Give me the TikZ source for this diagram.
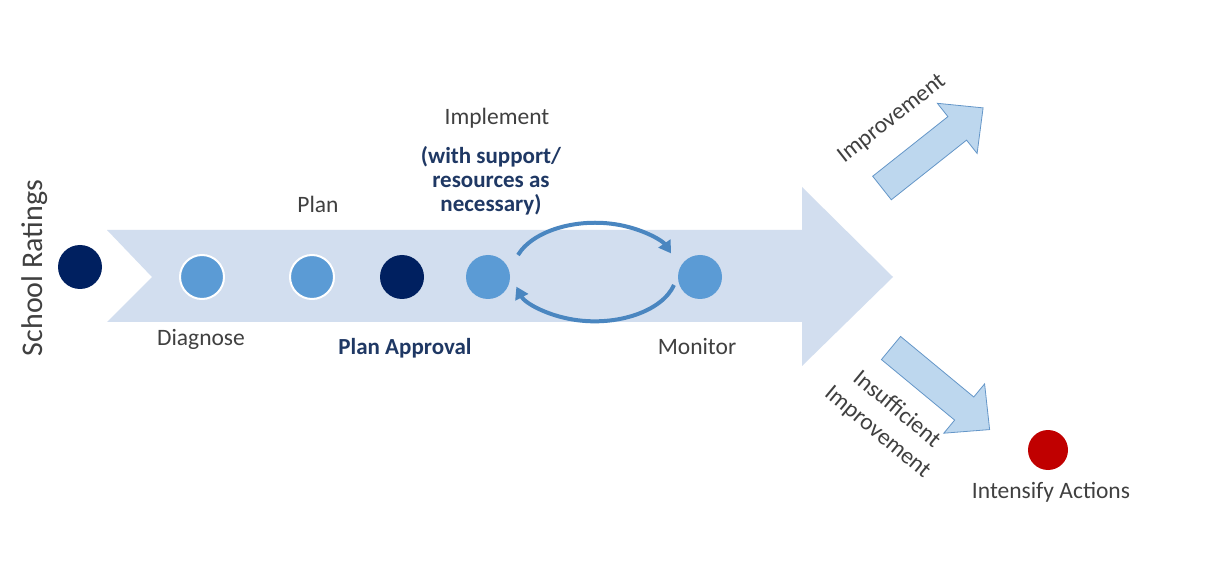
\documentclass[tikz,border=0pt]{standalone}
\usepackage{fontspec}
\setmainfont{Carlito}
\usetikzlibrary{arrows.meta}
\definecolor{band}{RGB}{210,222,239}
\definecolor{dotblue}{RGB}{91,155,213}
\definecolor{dotnavy}{RGB}{0,32,96}
\definecolor{dotred}{RGB}{192,0,0}
\definecolor{cyc}{RGB}{74,134,192}
\definecolor{blockfill}{RGB}{189,215,238}
\definecolor{blockline}{RGB}{100,150,200}
\definecolor{txtgrey}{RGB}{64,64,64}
\definecolor{txtnavy}{RGB}{31,56,100}
\tikzset{
  dot/.style={circle, minimum size=44pt, inner sep=0pt, fill=dotblue},
  wdot/.style={dot, draw=white, line width=2pt},
  ndot/.style={dot, fill=dotnavy},
  lbl/.style={text=txtgrey, font=\fontsize{23.5}{28}\selectfont, inner sep=0pt},
  blbl/.style={text=txtnavy, font=\fontsize{23}{24}\selectfont\bfseries, inner sep=0pt, align=center},
  cycarrow/.style={draw=cyc, line width=4pt, -{Triangle[length=12pt,width=14pt]}},
  blockarrow/.style={fill=blockfill, draw=blockline, line width=0.8pt, line join=miter}
}
\begin{document}
\begin{tikzpicture}[x=1pt,y=-1pt]
\useasboundingbox[fill=white] (0,0) rectangle (1227,585);
% big band arrow
\fill[band] (107,230) -- (802,230) -- (802,187) -- (893,277) -- (802,366) -- (802,322) -- (107,322) -- (152,277) -- cycle;
% dots
\node[ndot] (rating) at (80,267) {};
\node[wdot] (diag) at (202,277) {};
\node[wdot] (plan) at (312,277) {};
\node[ndot] (appr) at (402,277) {};
\node[dot] (impl) at (488,277) {};
\node[dot] (mon) at (700,277) {};
\node[dot, fill=dotred, minimum size=40pt] (act) at (1048,450) {};
% cycle arrows
\coordinate (ctop) at (518,255);
\coordinate (cbot) at (674,285);
\draw[cycarrow] (ctop) arc[start angle=-160, end angle=-22, x radius=82, y radius=49];
\draw[cycarrow] (cbot) arc[start angle=15, end angle=163, x radius=82, y radius=49];
% block arrows
\begin{scope}[shift={(882,188)}, rotate=38.4]
\draw[blockarrow] (0,-15) -- (96,-15) -- (96,-32) -- (129,0) -- (96,32) -- (96,15) -- (0,15) -- cycle;
\end{scope}
\begin{scope}[shift={(891,348)}, rotate=-39.6]
\draw[blockarrow] (0,-15) -- (95,-15) -- (95,-32) -- (128,0) -- (95,32) -- (95,15) -- (0,15) -- cycle;
\end{scope}
% labels
\node[lbl, rotate=90, font=\fontsize{30}{34}\selectfont] (tratings) at (35,268) {School Ratings};
\node[lbl] (tdiag) at (201,339) {Diagnose};
\node[lbl] (tplan) at (318,204) {Plan};
\node[blbl] (tappr) at (405,348) {Plan Approval};
\node[lbl] (timpl) at (497,118) {Implement};
\node[blbl] (tsupp) at (491,181) {(with support/\\resources as\\necessary)};
\node[lbl] (tmon) at (697,347) {Monitor};
\node[lbl, rotate=38] (timp) at (892,119) {Improvement};
\node[lbl, rotate=-39.7, align=center, font=\fontsize{23.5}{30}\selectfont] (tinsuf) at (887,421) {Insufficient\\Improvement};
\node[lbl] (tact) at (1051,492) {Intensify Actions};
\end{tikzpicture}
\end{document}
